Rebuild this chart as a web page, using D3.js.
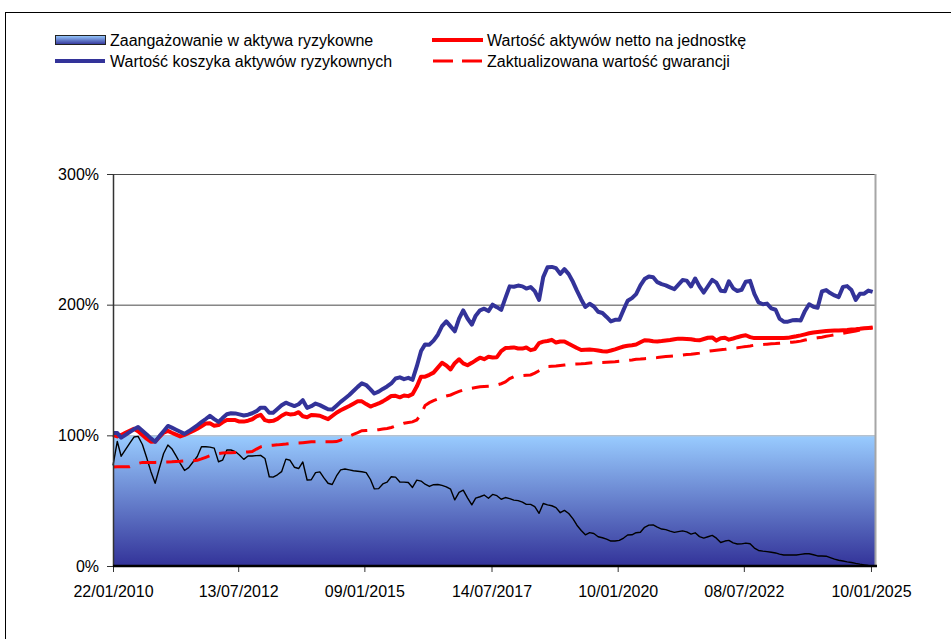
<!DOCTYPE html>
<html lang="pl">
  <head>
    <meta charset="utf-8">
    <script src="https://cdn.jsdelivr.net/npm/d3@7"></script>
    <title>Wartość aktywów</title>
  </head>
  <body style="margin:0;background:#fff;">

    <style>
      text{ font-family:"Liberation Sans", Arial, sans-serif; font-size:16px; fill:#000; }
      .domain{ display:none; }
    </style>

    <script>

      // Data (monthly points from 22/01/2010)

      var tickDates=["2010-01-22","2012-07-13","2015-01-09","2017-07-14","2020-01-10","2022-07-08","2025-01-10"];
      var tickLabels=["22/01/2010","13/07/2012","09/01/2015","14/07/2017","10/01/2020","08/07/2022","10/01/2025"];
      var yTicks=[0,100,200,300];
      var bandTop=100;

      // Wartość koszyka aktywów ryzykownych
      var basket=[101.8,101.7,98.2,100.4,102.5,104.6,106.4,103.5,100.7,97.7,
        95.1,99.2,103.2,107.2,105.9,104.3,102.7,101.1,103.1,105.4,
        107.7,110.1,112.5,115,112.4,110.3,113.2,116.1,116.9,116.8,
        116,115.2,115.8,116.9,118.5,121.2,121.1,117.3,117.2,120.1,
        123,125,123.6,122.4,123.8,126.9,121,122.3,124.3,123.1,
        121.6,120,119.8,122.7,125.6,128.2,130.9,133.9,137.1,139.8,
        138.5,135.2,132,133.4,135.5,137.4,139.7,143.5,144.4,143,
        144,142.5,152.7,164.5,169.6,169.4,172.5,177,183.6,187.2,
        183.4,179.6,189.3,195.6,189.4,184.7,191.6,195.7,196.9,195.1,
        200,198.1,196,205,214,213.7,214.6,214,212.3,213.5,
        210.4,203.6,221.1,228.6,228.9,228,223.6,227.2,223.4,217.3,
        210.7,204,198.2,200.7,198.6,194.6,193.6,190.6,187.2,188.4,
        188.4,196.2,203,205,208.1,214.7,219.6,221.6,221,217.2,
        215.7,214.8,213.2,211.9,215.1,218.8,218.4,213.9,220,214,
        209.3,214.1,219,216.9,210.7,210.2,217.9,212.5,210.5,211.4,
        217.6,218.2,208.2,201.7,200.3,200.8,197.2,196.1,189.4,187,
        187,188,188.3,187.9,195.2,200.3,198.4,197.6,210.1,211.2,
        208.9,207.1,205.8,213.6,214.2,211.2,203.7,208.3,208.4,210.8,
        209.8];

      // Wartość aktywów netto na jednostkę
      var nav=[100.2,99.2,100.3,101.9,103.4,105,103.1,100.3,97.4,95.1,
        95.2,98.6,102,103.4,102,100.6,99.2,100.3,101.8,103.3,
        105.1,107,109,109.2,107.4,107.9,110,111.7,111.7,111.7,
        110.5,110.5,111.2,112.3,114.5,115.7,111.6,110.7,111.1,112.6,
        115,116.8,116,116.3,117.7,114.6,113.9,115.6,115.3,115,
        113.7,112.4,114.8,117.3,119.2,120.8,122.4,124.2,126,126,
        123.9,122,123.2,124.4,126,128,130.1,130.2,129.1,130.5,
        130,131.5,137.3,144.9,144.9,146.3,148,151.8,155.5,153.5,
        150.4,155.2,158.2,155.1,153.6,155.5,157.4,159.4,158.3,160.1,
        159.5,159.8,164.5,166.8,167,167.3,166.5,166.4,167.2,165.2,
        166,170.6,171.7,172.2,173.1,171,171.8,171.9,170.1,168.4,
        166.8,165.3,165.5,165.7,165.4,164.9,164.4,164.1,164.9,165.8,
        166.9,168,168.6,168.9,169.5,171.2,172.8,172.5,172,171.9,
        172.2,172.6,172.9,173.5,174,174,173.8,173.5,172.9,172.7,
        173.7,174.7,174.9,172.5,174.3,174.7,173.2,174.1,175.1,176,
        176.6,175.2,174.4,174.4,174.4,174.4,174.4,174.4,174.4,174.4,
        174.6,175.2,175.8,176.5,177.3,178.1,178.7,179.1,179.5,179.8,
        180,180.2,180.3,180.5,180.7,181,181.2,181.5,181.9,182.2,
        182.5];

      // Zaktualizowana wartość gwarancji
      var guarantee=[75.8,75.9,76,76,76,77.2,78.5,79.3,79.3,79.3,
        79.3,79.4,79.5,79.6,79.7,79.9,80.1,80.4,80.5,80.6,
        81,82,83.2,84.4,85.5,86,86.4,86.7,86.7,86.8,
        86.9,87,87.3,87.6,89.5,91.2,92,92.3,92.5,92.7,
        93,93.3,93.7,93.9,94.1,94.4,94.7,95,95.1,95.1,
        95.1,95.1,95.1,95.2,96.4,97.8,99.3,100.7,102,103.5,
        103.7,103.9,104,104.3,104.8,105.3,106,107.2,108.3,109.3,
        109.8,110.3,111.8,116,122.9,125,126.6,127.8,129.2,130.1,
        130.9,132.3,133.6,134.7,135.5,136.1,136.6,137.2,137.4,137.6,
        137.8,138.6,139.5,140.9,143.4,144.9,145.5,145.7,146,146.2,
        147.6,149.4,151.1,152.6,152.8,153,153.4,153.8,154.2,154.5,
        154.6,154.7,154.9,155.3,155.6,155.7,155.8,156,156.2,156.4,
        156.7,157,157.3,157.7,158.2,158.4,158.7,158.9,159.2,159.5,
        159.9,160.3,160.6,160.9,161.2,161.4,161.8,162.1,162.5,162.9,
        163.7,164.3,164.8,165.2,165.5,165.8,166.2,166.6,167,167.5,
        167.9,168.4,169,169.3,169.5,169.8,170,170.2,170.5,170.8,
        171,171.3,171.6,172.1,172.9,173.6,174.1,174.6,175.1,175.8,
        176.3,176.9,177.6,178.1,178.7,179.3,179.9,180.6,181.2,181.9,
        182.3];

      // Zaangażowanie w aktywa ryzykowne
      var exposure=[77,95.3,84,89,93.8,98.7,99.2,93,82.8,72.4,
        63.3,74.7,86.1,92.6,89.8,84.2,78.6,73.1,75.3,79.6,
        83.8,91.3,91.3,91,90.2,79.8,81,88.8,88.8,87.6,
        85,81.6,84.2,84.2,84.5,84.7,82.3,68.3,68,69.8,
        72.2,81.8,80.9,75.6,74.6,79.6,65.8,66,71.5,72,
        67.6,63.3,62.4,68.9,73.6,74.2,73.6,72.9,72.5,72.1,
        71.5,66.2,59,59.2,62.8,64.2,68.3,68,64.3,64.2,
        63.9,60.1,65.7,65,62.6,60.9,62.2,62.4,61.7,60.6,
        58.8,50.6,56.4,58,52.2,46.8,52,53,54.3,51.8,
        54.8,53.8,51.1,52.4,51.6,50.4,50,48.9,47.2,47.2,
        45.5,40.3,47.8,46.8,46.1,44.7,40.8,42.6,40.2,36.1,
        31.2,27.2,23.9,25.5,24.9,22.4,21.6,20.6,19.1,19.1,
        19.6,21.4,23.7,23.9,25.5,25.8,29.6,31.3,31.4,29.7,
        28.3,27.8,26.7,25.7,26.3,26.9,26.1,24.4,25.4,22.5,
        21.3,22.4,23.4,21.3,18,19.1,19.6,17.7,16.8,16.9,
        17.5,17,13.7,11.9,11.4,11,10.5,10,9.1,8.4,
        8.4,8.4,8.4,8.9,9.4,9.4,8.6,7.7,7.7,7.5,
        6.4,5.3,4.4,3.8,3.2,2.7,2,1.4,0.9,0.4,
        0];

      var startDate=new Date(Date.UTC(2010,0,22));
      var endDate=new Date(Date.UTC(2025,1,8));
      var dates=basket.map(function(d,i){ return d3.utcMonth.offset(startDate,i); });

      // SVG

      var width=951, height=639;
      var svg=d3.select("body").append("svg").attr("width",width).attr("height",height);

      svg.append("rect").attr("x",5.5).attr("y",12.5).attr("width",1000).attr("height",700)
        .attr("fill","none").attr("stroke","#000");

      var defs=svg.append("defs");
      var grad=defs.append("linearGradient").attr("id","band").attr("x1",0).attr("y1",0).attr("x2",0).attr("y2",1);
      grad.append("stop").attr("offset","0%").attr("stop-color","#99ccff");
      grad.append("stop").attr("offset","100%").attr("stop-color","#333399");

      // Scales

      var x=d3.scaleUtc().domain([startDate,endDate]).range([113,875]);
      var y=d3.scaleLinear().domain([0,300]).range([566,174]);

      // Gridlines

      svg.append("g").selectAll("line").data(yTicks.filter(function(d){return d>0;})).enter().append("line")
        .attr("x1",x.range()[0]).attr("x2",x.range()[1])
        .attr("y1",function(d){return y(d)+0.5;}).attr("y2",function(d){return y(d)+0.5;})
        .attr("stroke","#4a4a4a").attr("stroke-width",1);

      // Band area

      svg.append("path").datum([startDate,endDate])
        .attr("d",d3.area().x(function(d){return x(d);}).y0(y(0)).y1(y(bandTop)))
        .attr("fill","url(#band)");

      svg.append("line").attr("x1",x.range()[0]).attr("x2",x.range()[1])
        .attr("y1",y(bandTop)+0.5).attr("y2",y(bandTop)+0.5)
        .attr("stroke","#c6c6c6").attr("stroke-width",1);

      // Plot border right

      svg.append("line").attr("x1",x.range()[1]+0.5).attr("x2",x.range()[1]+0.5)
        .attr("y1",y(300)).attr("y2",y(0))
        .attr("stroke","#a6a6a6").attr("stroke-width",2);

      // Lines

      function lineOf(vals){
        return d3.line().x(function(d,i){return x(dates[i]);}).y(function(d){return y(d);})(vals);
      }

      svg.append("path").attr("d",lineOf(exposure)).attr("fill","none")
        .attr("stroke","#000").attr("stroke-width",1.4).attr("stroke-linejoin","round");

      svg.append("path").attr("d",lineOf(nav)).attr("fill","none")
        .attr("stroke","#ff0000").attr("stroke-width",4).attr("stroke-linejoin","round");

      svg.append("path").attr("d",lineOf(basket)).attr("fill","none")
        .attr("stroke","#333399").attr("stroke-width",4).attr("stroke-linejoin","round");

      svg.append("path").attr("d",lineOf(guarantee)).attr("fill","none")
        .attr("stroke","#ff0000").attr("stroke-width",3).attr("stroke-dasharray","17,10");

      // Y Axis

      var yAxis=d3.axisLeft(y).tickValues(yTicks).tickSize(6).tickPadding(8)
        .tickFormat(function(d){return d+"%";});
      var gy=svg.append("g").attr("transform","translate(113,0)").call(yAxis);
      gy.selectAll("line").attr("stroke","#333");
      gy.selectAll("text").style("font-size","16px").style("font-family","Liberation Sans, Arial, sans-serif");
      svg.append("line").attr("x1",113.5).attr("x2",113.5).attr("y1",y(300)).attr("y2",y(0))
        .attr("stroke","#333").attr("stroke-width",1.5);

      // X Axis

      var xAxis=d3.axisBottom(x).tickValues(tickDates.map(function(s){return new Date(s+"T00:00:00Z");}))
        .tickSize(6).tickPadding(14)
        .tickFormat(function(d,i){return tickLabels[i];});
      var gx=svg.append("g").attr("transform","translate(0,566)").call(xAxis);
      gx.selectAll("line").attr("stroke","#333");
      gx.selectAll("text").style("font-size","16px").style("font-family","Liberation Sans, Arial, sans-serif");
      svg.append("line").attr("x1",113).attr("x2",877).attr("y1",566).attr("y2",566)
        .attr("stroke","#000").attr("stroke-width",2.5);

      // Legend

      var legend=svg.append("g");
      legend.append("rect").attr("x",55.5).attr("y",35.5).attr("width",50).attr("height",9)
        .attr("fill","url(#band)").attr("stroke","#222").attr("stroke-width",1);
      legend.append("line").attr("x1",55).attr("x2",105).attr("y1",61).attr("y2",61)
        .attr("stroke","#333399").attr("stroke-width",4);
      legend.append("line").attr("x1",432).attr("x2",483).attr("y1",40).attr("y2",40)
        .attr("stroke","#ff0000").attr("stroke-width",4);
      legend.append("line").attr("x1",433).attr("x2",485).attr("y1",61).attr("y2",61)
        .attr("stroke","#ff0000").attr("stroke-width",3).attr("stroke-dasharray","20,9");

      var legendTexts=[
        {t:"Zaangażowanie w aktywa ryzykowne",x:110,y:40},
        {t:"Wartość koszyka aktywów ryzykownych",x:110,y:61},
        {t:"Wartość aktywów netto na jednostkę",x:487,y:40},
        {t:"Zaktualizowana wartość gwarancji",x:487,y:61}
      ];
      legend.selectAll("text").data(legendTexts).enter().append("text")
        .attr("x",function(d){return d.x;}).attr("y",function(d){return d.y;})
        .attr("dy","0.35em").text(function(d){return d.t;});

    </script>

  </body>
</html>
